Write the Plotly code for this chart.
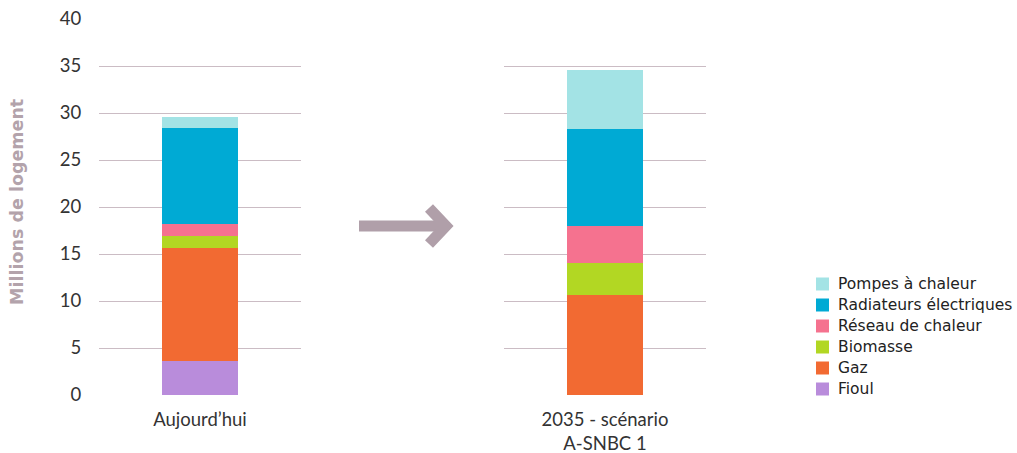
import plotly.graph_objects as go
from plotly.subplots import make_subplots

# Heating systems of French dwellings, in millions of homes
series_names = ["Fioul", "Gaz", "Biomasse", "Réseau de chaleur",
                "Radiateurs électriques", "Pompes à chaleur"]
series_colors = ["#b98cdb", "#f26a32", "#b2d723", "#f5728f", "#00aad4", "#a3e3e5"]
today_values = [3.6, 12.0, 1.3, 1.3, 10.2, 1.2]
scenario_values = [0.0, 10.6, 3.4, 4.0, 10.25, 6.3]
panel_labels = ["Aujourd’hui", "2035 - scénario<br>A-SNBC 1"]
y_ticks = [0, 5, 10, 15, 20, 25, 30, 35, 40]

W, H = 1017, 453
fig = make_subplots(rows=1, cols=2, horizontal_spacing=0.0)

for name, color, v_today, v_scen in zip(series_names, series_colors,
                                        today_values, scenario_values):
    fig.add_trace(go.Bar(x=[panel_labels[0]], y=[v_today], name=name,
                         marker=dict(color=color, line=dict(width=0)),
                         width=0.38, legendgroup=name, showlegend=False),
                  row=1, col=1)
    fig.add_trace(go.Bar(x=[panel_labels[1]], y=[v_scen], name=name,
                         marker=dict(color=color, line=dict(width=0)),
                         width=0.38, legendgroup=name, showlegend=False),
                  row=1, col=2)

grid_color = "#cbbcc4"
label_font = dict(family="Lato, Open Sans, sans-serif", size=18.5, color="#333333")
cat_font = dict(family="Lato, Open Sans, sans-serif", size=18.5, color="#333333")

fig.update_xaxes(showgrid=False, zeroline=False, showline=False,
                 tickfont=cat_font, ticks="outside", ticklen=8,
                 tickcolor="rgba(0,0,0,0)")
fig.update_layout(
    xaxis=dict(domain=[99 / W, 301 / W]),
    xaxis2=dict(domain=[504 / W, 706 / W]),
)
common_y = dict(range=[0, 40], tickvals=y_ticks, showgrid=True,
                gridcolor=grid_color, gridwidth=1.3, zeroline=False,
                showline=False)
fig.update_yaxes(**common_y)
fig.update_yaxes(row=1, col=1, tickfont=label_font, ticks="outside",
                 ticklen=13, tickcolor="rgba(0,0,0,0)")
fig.update_yaxes(row=1, col=2, showticklabels=False)

def px(x):
    return x / W
def py(y):
    return (395 - y) / 376

# Vertical axis title
fig.add_annotation(text="<b>Millions de logement</b>", textangle=-90,
                   xref="paper", yref="paper", x=px(17), y=py(202),
                   xanchor="center", yanchor="middle", showarrow=False,
                   font=dict(family="DejaVu Sans, Verdana, sans-serif",
                             size=17.5, color="#b3a3ab"))

# Arrow between the two panels
arrow_color = "#b09fa9"
fig.add_shape(type="line", xref="paper", yref="paper",
              x0=px(359), x1=px(446), y0=py(226), y1=py(226),
              line=dict(color=arrow_color, width=11))
fig.add_shape(type="path", xref="paper", yref="paper",
              path=f"M {px(429)} {py(208)} L {px(446)} {py(226)} L {px(429)} {py(244)}",
              line=dict(color=arrow_color, width=11))

# Legend: colour square and label per series, top entry = top of the stack
legend_top, legend_step = 284, 21
for i, (name, color) in enumerate(reversed(list(zip(series_names, series_colors)))):
    cy = legend_top + i * legend_step
    fig.add_shape(type="rect", xref="paper", yref="paper",
                  x0=px(816), x1=px(829), y0=py(cy + 6.5), y1=py(cy - 6.5),
                  fillcolor=color, line=dict(width=0))
    fig.add_annotation(text=name, xref="paper", yref="paper",
                       x=px(836), y=py(cy), xanchor="left", yanchor="middle",
                       showarrow=False,
                       font=dict(family="DejaVu Sans, Verdana, sans-serif",
                                 size=15.5, color="#222222"))

fig.update_layout(
    width=W, height=H,
    barmode="stack",
    bargap=0,
    plot_bgcolor="white", paper_bgcolor="white",
    margin=dict(l=0, r=0, t=19, b=58),
    showlegend=False,
)

fig.write_html("out.html")
